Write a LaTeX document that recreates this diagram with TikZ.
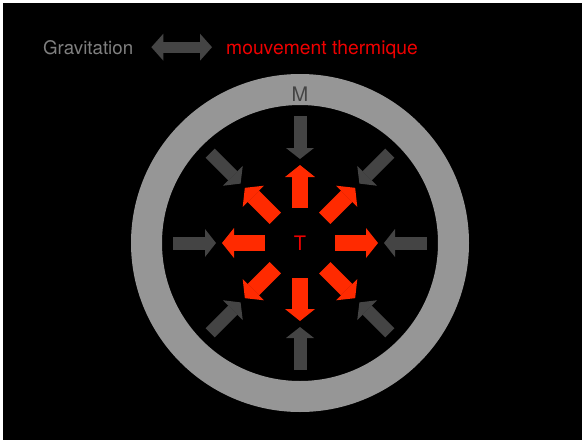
\documentclass[tikz,border=0pt]{standalone}
\usepackage{fontspec}
\setmainfont{TeX Gyre Heros}
\usepackage{xcolor}
\usepackage{tikz}
\usetikzlibrary{arrows.meta,positioning,calc}

\definecolor{ringgray}{RGB}{150,150,150}
\definecolor{gravgray}{RGB}{68,68,68}
\definecolor{thermred}{RGB}{255,42,0}
\definecolor{textred}{RGB}{238,0,0}
\definecolor{textgray}{RGB}{128,128,128}

\begin{document}
\begin{tikzpicture}[x=1pt, y=-1pt,
  lbl/.style   = {inner sep=0pt, font=\fontsize{18.7}{20}\selectfont},
  ring/.style  = {draw=ringgray, line width=31pt},
  grav/.style  = {draw=gravgray, line width=13pt,
                  -{Triangle[length=11pt, width=28pt, line width=0pt]}},
  therm/.style = {draw=thermred, line width=16pt,
                  -{Triangle[length=12pt, width=30pt, line width=0pt]}},
  both/.style  = {draw=gravgray, line width=11pt,
                  {Triangle[length=12pt, width=27pt, line width=0pt]}-{Triangle[length=12pt, width=27pt, line width=0pt]}}
]

% , - Background , -
\fill[white] (0,0) rectangle (584,442);
\fill[black] (3,3) rectangle (582,440);

% , - Legend , -
\node[lbl, text=textgray, anchor=base west] (gravlbl)  at (43,54) {Gravitation};
\node[lbl, text=textred,  anchor=base west, font=\fontsize{19.3}{20}\selectfont]
     (thermlbl) at (226,54) {mouvement thermique};
\draw[both] ([xshift=18pt]gravlbl.east) -- ([xshift=-14pt]thermlbl.west |- gravlbl.east);

% , - Mantle ring and core , -
\node[lbl, text=textred, font=\fontsize{20}{20}\selectfont] (T) at (300,243) {T};
\draw[ring] (T.center) circle (153.5);
\node[lbl, text=gravgray, font=\fontsize{20}{20}\selectfont] (M) at (300,94) {M};

% , - Arrows: gravity inward, heat outward , -
\foreach \a in {0,45,...,315} {
  \draw[grav]  ($(T.center)+(\a:127)$) -- ($(T.center)+(\a:84)$);
  \draw[therm] ($(T.center)+(\a:35)$)  -- ($(T.center)+(\a:78)$);
}

\end{tikzpicture}
\end{document}
